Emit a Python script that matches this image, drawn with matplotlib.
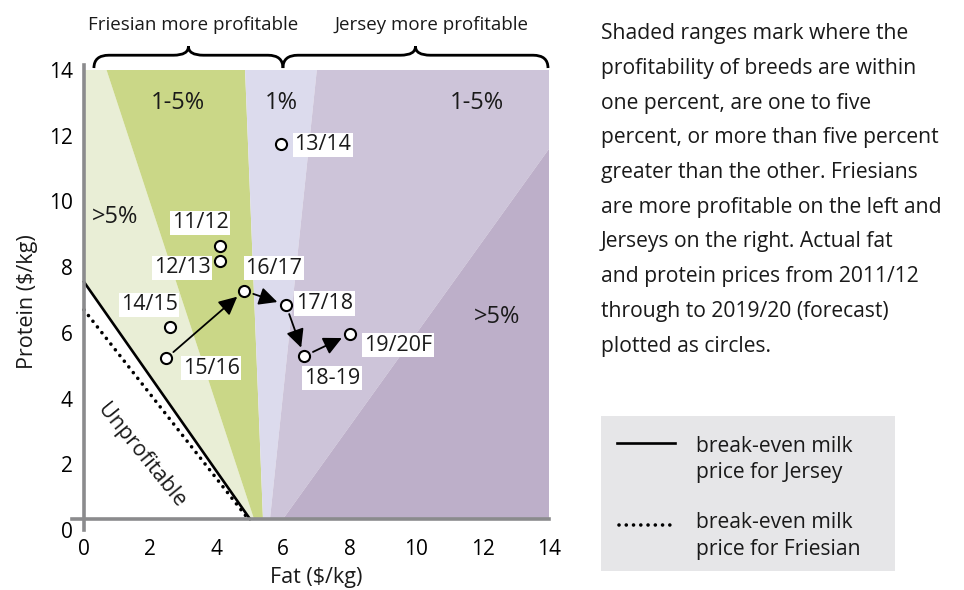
import matplotlib
matplotlib.use('Agg')
import matplotlib.pyplot as plt
from matplotlib.path import Path
from matplotlib.patches import PathPatch, Rectangle
from matplotlib.lines import Line2D

plt.rcParams['font.family'] = ['Open Sans', 'DejaVu Sans']
plt.rcParams['font.size'] = 15
plt.rcParams['text.color'] = '#1a1a1a'

# Data: fat and protein prices ($/kg) by season
seasons = ['11/12', '12/13', '13/14', '14/15', '15/16', '16/17', '17/18', '18-19', '19/20F']
fat = [4.10, 4.10, 5.93, 2.59, 2.47, 4.82, 6.08, 6.63, 8.01]
protein = [8.63, 8.20, 11.74, 6.19, 5.22, 7.28, 6.85, 5.29, 5.96]
trend = ['15/16', '16/17', '17/18', '18-19', '19/20F']

# break-even milk price lines (fat, protein end points)
jersey_fat = [0, 5.00]
jersey_protein = [7.55, 0.33]
friesian_fat = [0, 4.95]
friesian_protein = [6.70, 0.33]

# zone boundaries: fat value at protein = 14 and at the axis line
base = 0.33
top_x = [0.68, 4.85, 7.01]
bottom_x = [5.12, 5.39, 5.60]
j5_bottom = 5.99
j5_right = 11.6

colors = ['#e9eed6', '#cad787', '#dcdbed', '#cdc4d9', '#bdafc9']
axis_gray = '#8b8b8d'

W, H = 964, 590
fig = plt.figure(figsize=(W / 100, H / 100), dpi=100)


def fx(p):
    return p / W


def fy(p):
    return 1 - p / H


ax = fig.add_axes([fx(72), fy(531.6), fx(549 - 72), (531.6 - 70) / H])
ax.set_xlim(-0.36, 14)
ax.set_ylim(-0.05, 14)

# shaded zones
zones = [
    [(0, jersey_protein[0]), (0, 14), (top_x[0], 14), (bottom_x[0], base), (jersey_fat[1], base)],
    [(top_x[0], 14), (top_x[1], 14), (bottom_x[1], base), (bottom_x[0], base)],
    [(top_x[1], 14), (top_x[2], 14), (bottom_x[2], base), (bottom_x[1], base)],
    [(top_x[2], 14), (14, 14), (14, j5_right), (j5_bottom, base), (bottom_x[2], base)],
    [(j5_bottom, base), (14, j5_right), (14, base)],
]
for poly, c in zip(zones, colors):
    xs, ys = zip(*poly)
    ax.fill(xs, ys, color=c, lw=0, zorder=1)

# break-even lines
ax.plot(jersey_fat, jersey_protein, color='black', lw=1.9, zorder=3)
ax.plot(friesian_fat, friesian_protein, color='black', lw=2.6,
        linestyle=(0, (0.01, 2.0)), dash_capstyle='round', zorder=3)

# trend arrows
for a, b in zip(trend[:-1], trend[1:]):
    i, j = seasons.index(a), seasons.index(b)
    ax.annotate('', xy=(fat[j], protein[j]), xytext=(fat[i], protein[i]),
                arrowprops=dict(arrowstyle='-|>,head_length=0.65,head_width=0.32',
                                color='black', lw=1.3, shrinkA=7, shrinkB=6.5,
                                mutation_scale=17), zorder=4)

# points
ax.plot(fat, protein, 'o', ms=8, mfc='white', mec='black', mew=1.5, zorder=5)

label_offsets = [(-14.4, 17), (-27.4, -5.3), (30.1, -0.5), (-15.1, 15.6), (32.4, -7),
                 (21.4, 16.3), (27.9, 0.9), (19.9, -15.8), (34.6, -7.9)]
for s, x, y, off in zip(seasons, fat, protein, label_offsets):
    ax.annotate(s, (x, y), xytext=off, textcoords='offset points',
                ha='center', va='center', fontsize=15.5, zorder=6,
                bbox=dict(boxstyle='square,pad=0.08', fc='white', ec='none'))

# zone labels
ax.text(2.83, 13.0, '1-5%', ha='center', va='center', fontsize=17, zorder=2)
ax.text(5.93, 13.0, '1%', ha='center', va='center', fontsize=17, zorder=2)
ax.text(11.84, 13.0, '1-5%', ha='center', va='center', fontsize=17, zorder=2)
ax.text(0.93, 9.53, '>5%', ha='center', va='center', fontsize=17, zorder=2)
ax.text(12.44, 6.48, '>5%', ha='center', va='center', fontsize=17, zorder=2)
ax.text(1.72, 2.25, 'Unprofitable', ha='center', va='center', fontsize=15.5,
        rotation=-51, rotation_mode='anchor', zorder=2)


# braces above the plot
def brace(x0, x1, yb=14.06, ym=14.45, yp=14.72, r=0.45):
    xc = (x0 + x1) / 2
    verts = [(x0, yb), (x0, ym), (x0 + r, ym), (xc - r, ym), (xc, ym), (xc, yp),
             (xc, ym), (xc + r, ym), (x1 - r, ym), (x1, ym), (x1, yb)]
    codes = [Path.MOVETO, Path.CURVE3, Path.CURVE3, Path.LINETO, Path.CURVE3, Path.CURVE3,
             Path.CURVE3, Path.CURVE3, Path.LINETO, Path.CURVE3, Path.CURVE3]
    ax.add_patch(PathPatch(Path(verts, codes), fc='none', ec='black', lw=2,
                           clip_on=False, zorder=3))


brace(0.30, 5.99)
brace(5.99, 13.97)
ax.text(3.28, 15.37, 'Friesian more profitable', ha='center', va='center',
        fontsize=13.5, clip_on=False)
ax.text(10.45, 15.37, 'Jersey more profitable', ha='center', va='center',
        fontsize=13.5, clip_on=False)

# axes styling
for s in ['top', 'right']:
    ax.spines[s].set_visible(False)
ax.spines['left'].set_position(('data', 0))
ax.spines['left'].set_bounds(0, 14.15)
ax.spines['bottom'].set_position(('data', base))
ax.spines['bottom'].set_bounds(-0.36, 14)
for s in ['left', 'bottom']:
    ax.spines[s].set_color(axis_gray)
    ax.spines[s].set_linewidth(2.6)
    ax.spines[s].set_zorder(4)
ax.set_xticks(range(0, 15, 2))
ax.set_yticks(range(0, 15, 2))
ax.tick_params(axis='both', length=0, labelsize=15)
ax.tick_params(axis='y', pad=8)
ax.tick_params(axis='x', pad=14)
ax.patch.set_visible(False)

fig.text(fx(316), fy(577), 'Fat ($/kg)', ha='center', va='center', fontsize=15.5)
fig.text(fx(27), fy(302), 'Protein ($/kg)', ha='center', va='center', fontsize=15.5,
         rotation=90)

# explanatory text
para = ['Shaded ranges mark where the',
        'profitability of breeds are within',
        'one percent, are one to five',
        'percent, or more than five percent',
        'greater than the other. Friesians',
        'are more profitable on the left and',
        'Jerseys on the right. Actual fat',
        'and protein prices from 2011/12',
        'through to 2019/20 (forecast)',
        'plotted as circles.']
for k, line in enumerate(para):
    fig.text(fx(601), fy(39.3 + k * 34.7), line, ha='left', va='baseline', fontsize=15.2)

# legend box
fig.add_artist(Rectangle((fx(601), fy(570.7)), fx(895 - 601), (570.7 - 416) / H,
                         transform=fig.transFigure, fc='#e6e6e8', ec='none', zorder=0))
fig.add_artist(Line2D([fx(617), fx(675)], [fy(443.3), fy(443.3)], color='black', lw=1.9))
fig.add_artist(Line2D([fx(619), fx(675)], [fy(525), fy(525)], color='black', lw=2.6,
                      linestyle=(0, (0.01, 2.0)), dash_capstyle='round'))
for y0, txt in [(451.7, 'break-even milk'), (478, 'price for Jersey'),
                (528.3, 'break-even milk'), (554.6, 'price for Friesian')]:
    fig.text(fx(696), fy(y0), txt, ha='left', va='baseline', fontsize=15.2)

fig.savefig('out.png', dpi=100)
